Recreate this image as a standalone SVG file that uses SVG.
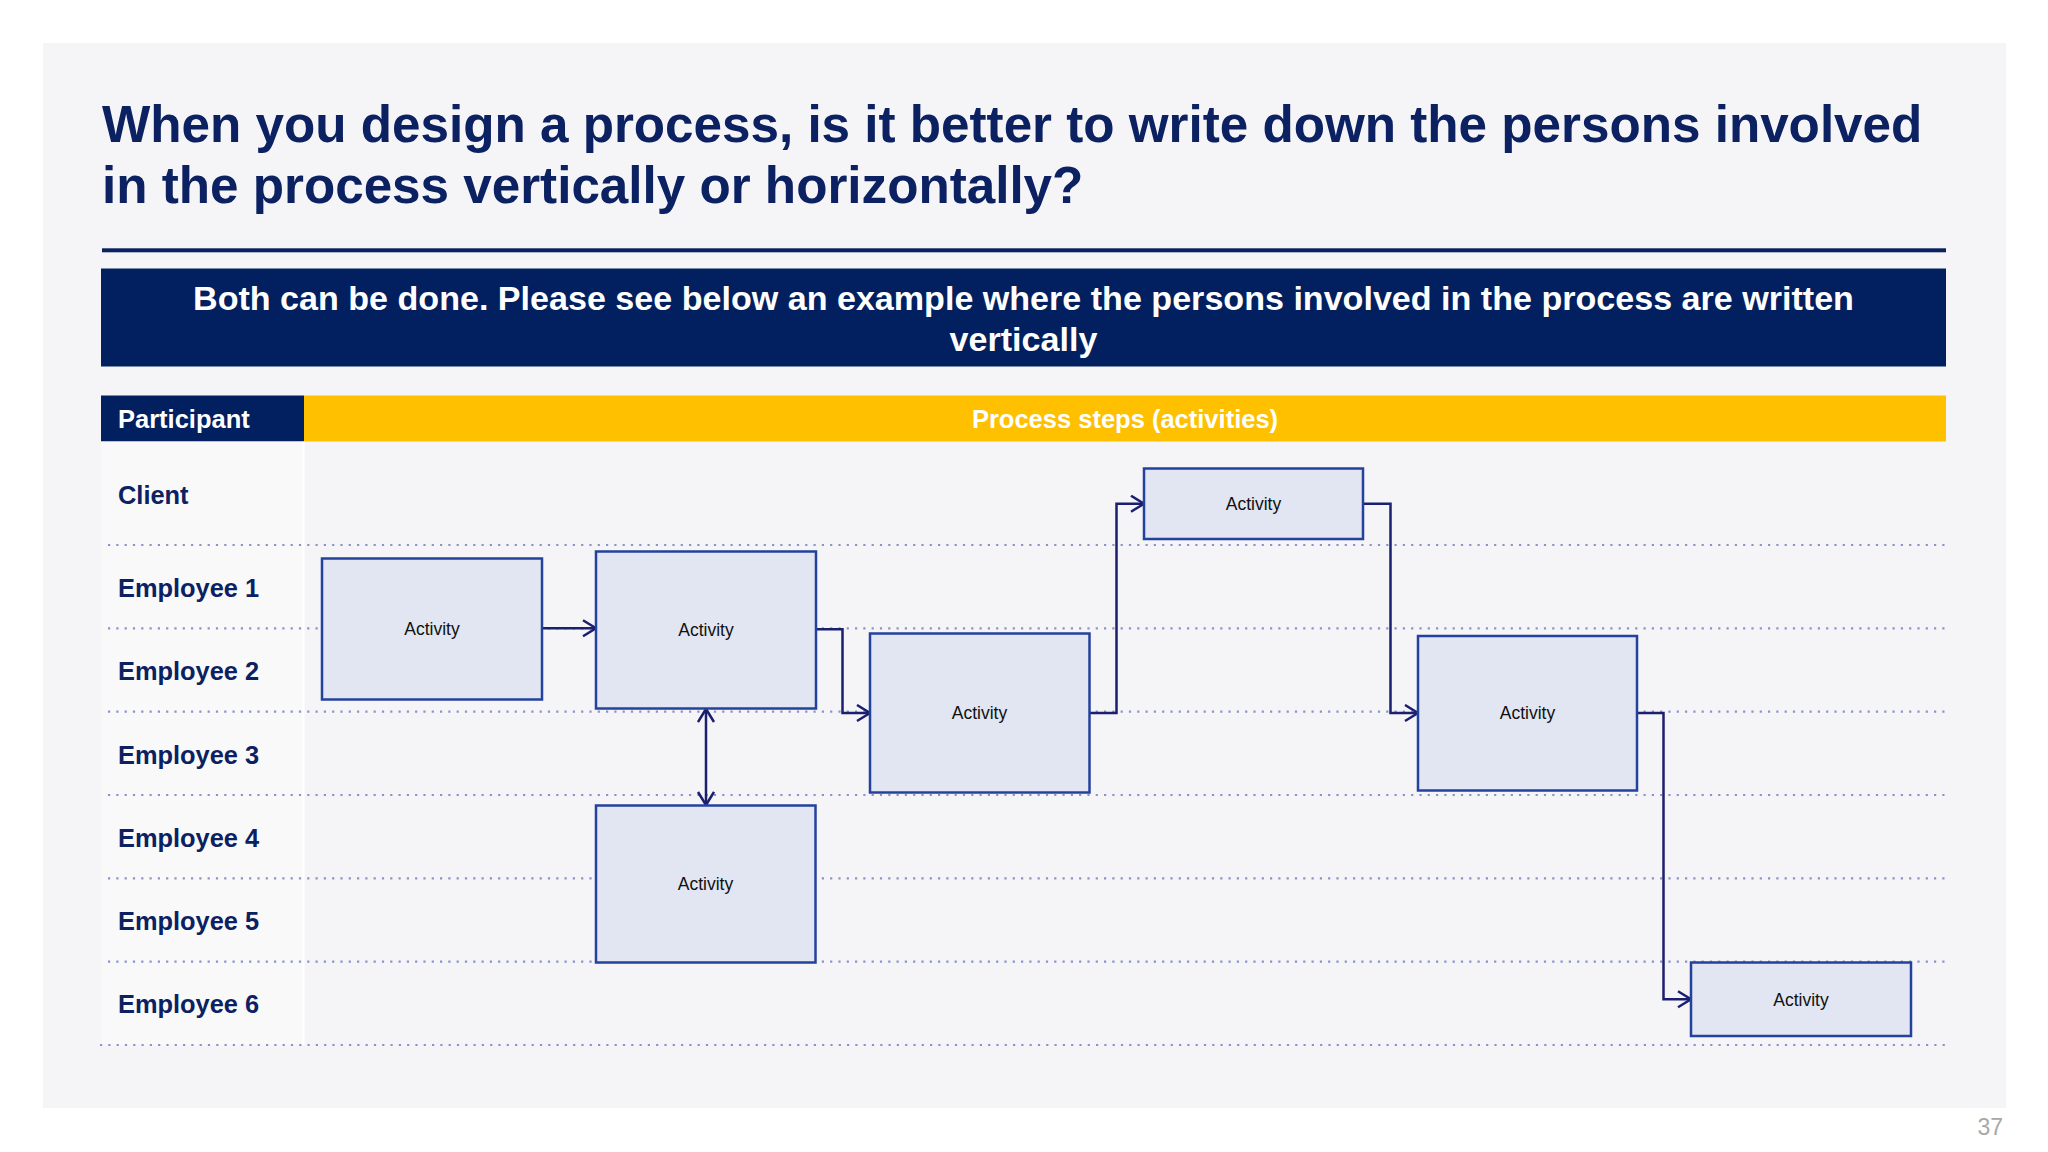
<svg xmlns="http://www.w3.org/2000/svg" width="2048" height="1152" viewBox="0 0 2048 1152">
  <defs>
    <style>
      .title { font-family: "Liberation Sans", Arial, sans-serif; font-weight: bold; font-size: 51.2px; fill: #0b2161; }
      .banner { font-family: "Liberation Sans", Arial, sans-serif; font-weight: bold; font-size: 34.1px; fill: #ffffff; }
      .hdr { font-family: "Liberation Sans", Arial, sans-serif; font-weight: bold; font-size: 25.5px; fill: #ffffff; }
      .lane { font-family: "Liberation Sans", Arial, sans-serif; font-weight: bold; font-size: 25.4px; fill: #0b2161; }
      .box { fill: #e1e6f2; stroke: #23429c; stroke-width: 2.5; }
      .act { font-family: "Liberation Sans", Arial, sans-serif; font-size: 17.5px; fill: #111111; text-anchor: middle; }
      .dot { stroke: #8a93cb; stroke-width: 2.2; stroke-dasharray: 2.2 6.1; fill: none; }
      .conn { fill: none; stroke: #1b1f70; stroke-width: 2.5; marker-end: url(#arr); }
      .pg { font-family: "Liberation Sans", Arial, sans-serif; font-size: 23px; fill: #a8a8a8; text-anchor: end; }
    </style>
    <marker id="arr" markerUnits="userSpaceOnUse" markerWidth="18" markerHeight="20" refX="15" refY="9" orient="auto-start-reverse" viewBox="0 0 18 20">
      <path d="M2,1 L15,9 L2,17" fill="none" stroke="#1b1f70" stroke-width="2.5"/>
    </marker>
  </defs>

  <rect x="0" y="0" width="2048" height="1152" fill="#ffffff"/>
  <rect x="43" y="43" width="1963" height="1065" fill="#f5f5f7"/>

  <g id="title">
    <text class="title" x="102" y="142">When you design a process, is it better to write down the persons involved</text>
    <text class="title" x="102" y="203">in the process vertically or horizontally?</text>
  </g>
  <rect x="102" y="248.3" width="1844" height="4" fill="#0b2161"/>

  <g id="banner">
    <rect x="101" y="268.5" width="1845" height="98" fill="#02205f"/>
    <text class="banner" x="1023.5" y="310" text-anchor="middle">Both can be done. Please see below an example where the persons involved in the process are written</text>
    <text class="banner" x="1023.5" y="351" text-anchor="middle">vertically</text>
  </g>

  <g id="header">
    <rect x="101" y="395.5" width="203" height="46" fill="#02205f"/>
    <rect x="304" y="395.5" width="1642" height="46" fill="#ffc000"/>
    <text class="hdr" x="118" y="428">Participant</text>
    <text class="hdr" x="1125" y="428" text-anchor="middle">Process steps (activities)</text>
  </g>

  <g id="lanes">
    <rect x="101" y="441.5" width="202" height="603.5" fill="#f9f9fa"/>
    <line x1="303.5" y1="441.5" x2="303.5" y2="1045" stroke="#ffffff" stroke-width="2"/>
    <line class="dot" x1="108" y1="545" x2="1946" y2="545"/>
    <line class="dot" x1="108" y1="628.3" x2="1946" y2="628.3"/>
    <line class="dot" x1="108" y1="711.7" x2="1946" y2="711.7"/>
    <line class="dot" x1="108" y1="795" x2="1946" y2="795"/>
    <line class="dot" x1="108" y1="878.3" x2="1946" y2="878.3"/>
    <line class="dot" x1="108" y1="961.7" x2="1946" y2="961.7"/>
    <line class="dot" x1="100" y1="1045" x2="1946" y2="1045"/>
    <text class="lane" x="118" y="503.5">Client</text>
    <text class="lane" x="118" y="597">Employee 1</text>
    <text class="lane" x="118" y="680">Employee 2</text>
    <text class="lane" x="118" y="763.5">Employee 3</text>
    <text class="lane" x="118" y="847">Employee 4</text>
    <text class="lane" x="118" y="930">Employee 5</text>
    <text class="lane" x="118" y="1013">Employee 6</text>
  </g>

  <g id="connectors">
    <path class="conn" d="M542,628.3 L596,628.3"/>
    <path class="conn" d="M816,629.3 L842.5,629.3 L842.5,713 L870,713"/>
    <path class="conn" d="M706,709 L706,805" marker-start="url(#arr)"/>
    <path class="conn" d="M1089.5,713 L1116.5,713 L1116.5,503.7 L1144,503.7"/>
    <path class="conn" d="M1363,503.7 L1390.5,503.7 L1390.5,713 L1418,713"/>
    <path class="conn" d="M1637,713 L1663.5,713 L1663.5,999.3 L1691,999.3"/>
  </g>

  <g id="act1"><rect class="box" x="322" y="558.5" width="220" height="141"/><text class="act" x="432" y="635">Activity</text></g>
  <g id="act2"><rect class="box" x="596" y="551.5" width="220" height="157"/><text class="act" x="706" y="636">Activity</text></g>
  <g id="act3"><rect class="box" x="870" y="633.5" width="219.5" height="159"/><text class="act" x="979.5" y="719">Activity</text></g>
  <g id="act4"><rect class="box" x="1144" y="468.5" width="219" height="70.5"/><text class="act" x="1253.5" y="510">Activity</text></g>
  <g id="act5"><rect class="box" x="1418" y="636" width="219" height="154.5"/><text class="act" x="1527.5" y="719">Activity</text></g>
  <g id="act6"><rect class="box" x="596" y="805.5" width="219.5" height="157"/><text class="act" x="705.5" y="890">Activity</text></g>
  <g id="act7"><rect class="box" x="1691" y="962.5" width="220" height="73.5"/><text class="act" x="1801" y="1005.5">Activity</text></g>

  <text class="pg" x="2003" y="1135">37</text>
</svg>
